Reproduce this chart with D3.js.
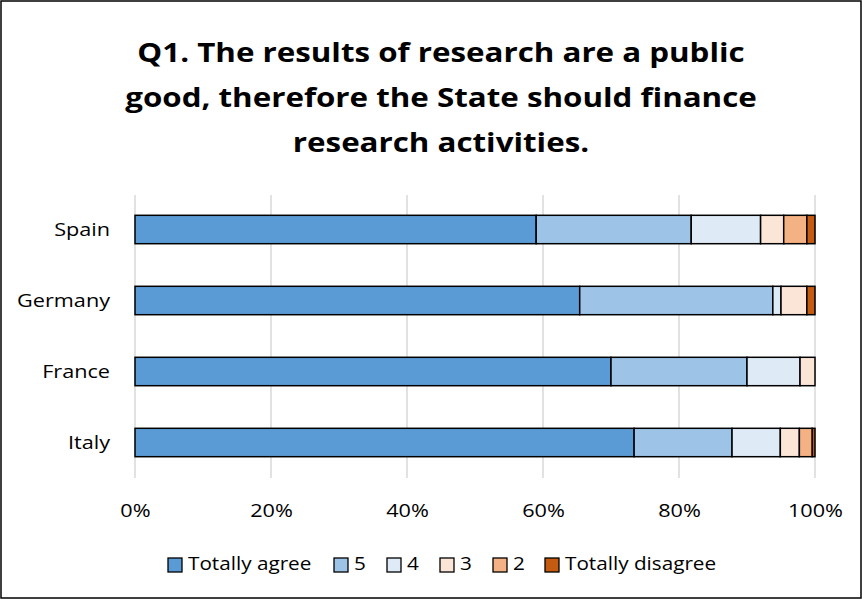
<!DOCTYPE html>
<html>
<head>
<meta charset="utf-8">
<script src="https://cdn.jsdelivr.net/npm/d3@7"></script>
<style>
  body { margin: 0; background: #fff; }
  svg { display: block; }
</style>
</head>
<body>
<svg id="chart" width="862" height="599"></svg>
<script>
// Survey answers by country, share of respondents (%)
const countries = ["Spain", "Germany", "France", "Italy"];
const series = ["Totally agree", "5", "4", "3", "2", "Totally disagree"];
const totallyAgree    = [59.0, 65.4, 70.0, 73.4];
const score5          = [22.8, 28.4, 20.0, 14.4];
const score4          = [10.2,  1.2,  7.8,  7.1];
const score3          = [ 3.4,  3.8,  2.2,  2.8];
const score2          = [ 3.4,  0.0,  0.0,  1.9];
const totallyDisagree = [ 1.2,  1.2,  0.0,  0.4];
const tickValues = [0, 0.2, 0.4, 0.6, 0.8, 1.0];
const colors = ["#5B9BD5", "#9DC3E6", "#DEEBF7", "#FBE5D6", "#F4B183", "#C55A11"];

const seriesValues = [totallyAgree, score5, score4, score3, score2, totallyDisagree];
const rows = countries.map((c, i) => {
  const r = { country: c };
  series.forEach((s, k) => { r[s] = seriesValues[k][i]; });
  return r;
});
const stacked = d3.stack().keys(series).offset(d3.stackOffsetExpand)(rows);

const svg = d3.select("#chart");
const font = "'Open Sans', sans-serif";
// the lettering is set slightly wide
const titleStretch = 1.16, labelStretch = 1.14, legendStretch = 1.09;

// chart frame
svg.append("rect").attr("x", 1).attr("y", 1).attr("width", 860).attr("height", 597)
  .attr("fill", "#fff").attr("stroke", "#000").attr("stroke-width", 1.5);

// title
const titleLines = ["Q1. The results of research are a public",
                    "good, therefore the State should finance",
                    "research activities."];
svg.append("g").selectAll("text").data(titleLines).join("text")
  .attr("transform", (d, i) => `translate(441,${62 + i * 45}) scale(${titleStretch},1)`)
  .attr("text-anchor", "middle")
  .attr("font-family", font).attr("font-weight", "bold").attr("font-size", 27)
  .attr("fill", "#000").text(d => d);

const x = d3.scaleLinear().domain([0, 1]).range([135, 815]);
const y = d3.scaleBand().domain(countries).range([194, 478]).paddingInner(0.6).paddingOuter(0.3);

// vertical gridlines
svg.append("g").selectAll("line").data(tickValues).join("line")
  .attr("x1", d => x(d)).attr("x2", d => x(d))
  .attr("y1", 195).attr("y2", 478)
  .attr("stroke", "#D9D9D9").attr("stroke-width", 1.5);

// stacked bars
svg.append("g").selectAll("g").data(stacked).join("g")
  .attr("fill", (d, i) => colors[i])
  .selectAll("rect").data(d => d.filter(p => p[1] - p[0] > 0)).join("rect")
  .attr("x", d => x(d[0])).attr("width", d => x(d[1]) - x(d[0]))
  .attr("y", d => y(d.data.country)).attr("height", y.bandwidth())
  .attr("stroke", "#000").attr("stroke-width", 1.5);

// x axis labels
const xAxis = d3.axisBottom(x).tickValues(tickValues).tickFormat(d3.format(".0%")).tickSize(0).tickPadding(0);
const gx = svg.append("g").attr("transform", "translate(0,517)").call(xAxis);
gx.select(".domain").remove();
gx.selectAll("text").attr("font-family", font).attr("font-size", 19).attr("fill", "#000")
  .attr("dy", 0).attr("y", 0).attr("transform", `scale(${labelStretch},1)`);

// y axis labels
const yPad = 25;
const yAxis = d3.axisLeft(y).tickSize(0).tickPadding(yPad);
const gy = svg.append("g").attr("transform", "translate(135,0)").call(yAxis);
gy.select(".domain").remove();
gy.selectAll("text").attr("font-family", font).attr("font-size", 19).attr("fill", "#000")
  .attr("x", -yPad / labelStretch).attr("transform", `scale(${labelStretch},1)`);

// legend
const legendX = [168, 334, 387, 440, 493, 545];
const lg = svg.append("g").selectAll("g").data(series).join("g")
  .attr("transform", (d, i) => `translate(${legendX[i]},570)`);
lg.append("rect").attr("x", 0).attr("y", -12).attr("width", 14).attr("height", 14)
  .attr("fill", (d, i) => colors[i]).attr("stroke", "#000").attr("stroke-width", 1.3);
lg.append("text").attr("transform", `translate(20,0) scale(${legendStretch},1)`)
  .attr("font-family", font).attr("font-size", 19).attr("fill", "#000").text(d => d);
</script>
</body>
</html>
